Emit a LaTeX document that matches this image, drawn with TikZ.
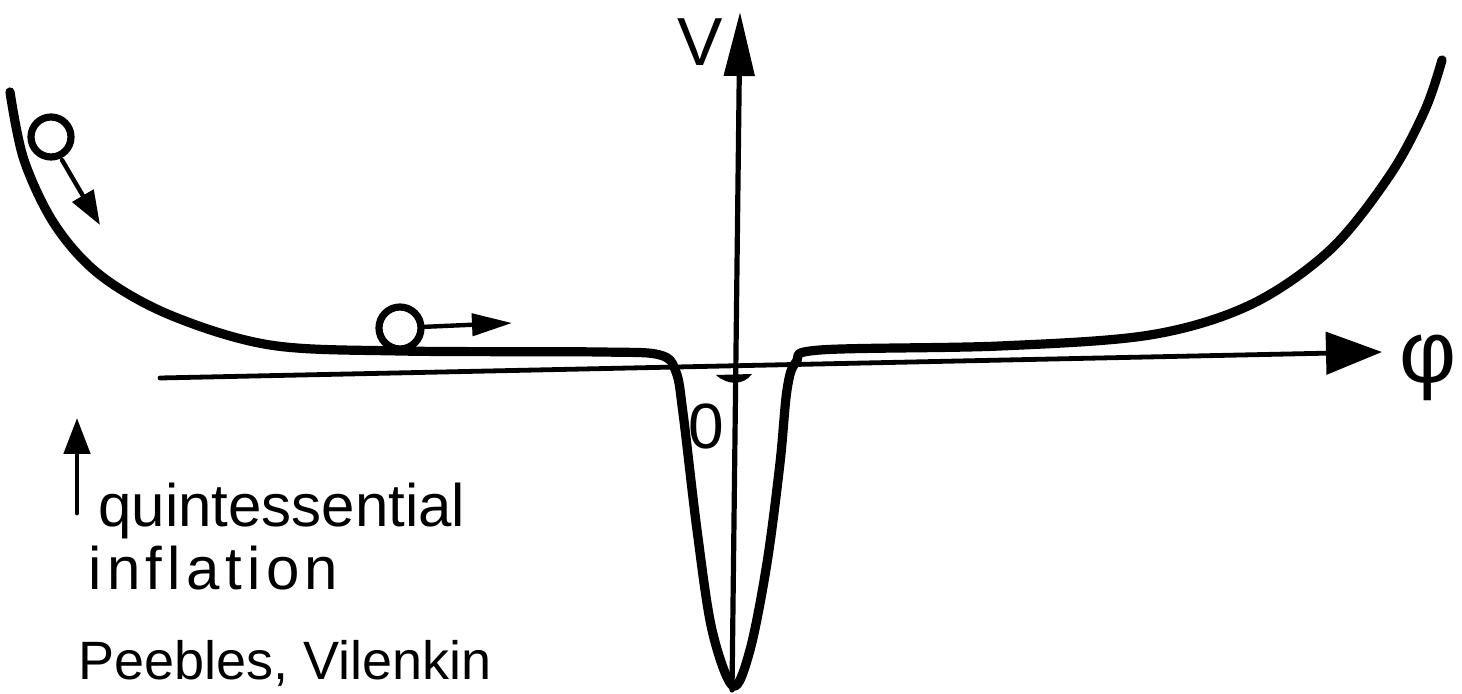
\documentclass[tikz,border=0pt]{standalone}
\usepackage{fontspec}
\setmainfont{Liberation Sans}
\usetikzlibrary{arrows.meta}

\begin{document}
\begin{tikzpicture}[x=.5pt,y=-.5pt,font=\fontsize{30}{34}\selectfont,line cap=round,line join=round]
  \useasboundingbox (0,0) rectangle (1462,694);
  % axes
  \draw[line width=2.4pt,-{Triangle[length=28pt,width=21pt]}] (160,378) -- (1382,352);
  \draw[line width=2.6pt,-{Triangle[length=32pt,width=15pt]}] (732,690) -- (740,12);
  \fill (716,375) .. controls (728,386) and (744,385) .. (752,374) -- cycle;
  \node[font=\fontsize{34}{38}\selectfont] (V) at (700,42) {V};
  \node[font=\fontsize{44}{48}\selectfont] (phi) at (1428,368) {φ};
  % potential
  \draw[line width=4.6pt] plot[smooth,tension=.55] coordinates {(10,92) (24,160) (55,225) (100,275)
    (170,315) (270,345) (400,351) (600,352) (660,355) (676,372) (683,413) (697,530) (712,630)
    (733,686) (750,650) (767,563) (780,463) (787,390) (796,362) (820,350) (1000,346) (1150,335)
    (1250,305) (1330,250) (1390,175) (1425,110) (1442,60)};
  % balls
  \draw[line width=3.6pt] (51,137) circle (10pt);
  \draw[line width=2.2pt,-{Triangle[length=17pt,width=12pt]}] (62,160) -- (100,225);
  \draw[line width=3.6pt] (400,328) circle (10.5pt);
  \draw[line width=2.2pt,-{Triangle[length=20pt,width=11pt]}] (421,327) -- (512,323);
  \node[font=\fontsize{32}{36}\selectfont] (zero) at (706,426) {0};
  % labels
  \draw[line width=2.4pt,-{Triangle[length=18pt,width=13pt]}] (77,513) -- (77,418);
  \node[anchor=base west,inner sep=0] (quint) at (98,527) {quintessential};
  \node[anchor=base west,inner sep=0] (infl) at (88,590) {\addfontfeature{LetterSpace=9}inflation};
  \node[anchor=base west,inner sep=0,font=\fontsize{27}{30}\selectfont] (names) at (78,680) {Peebles, Vilenkin};
\end{tikzpicture}
\end{document}
